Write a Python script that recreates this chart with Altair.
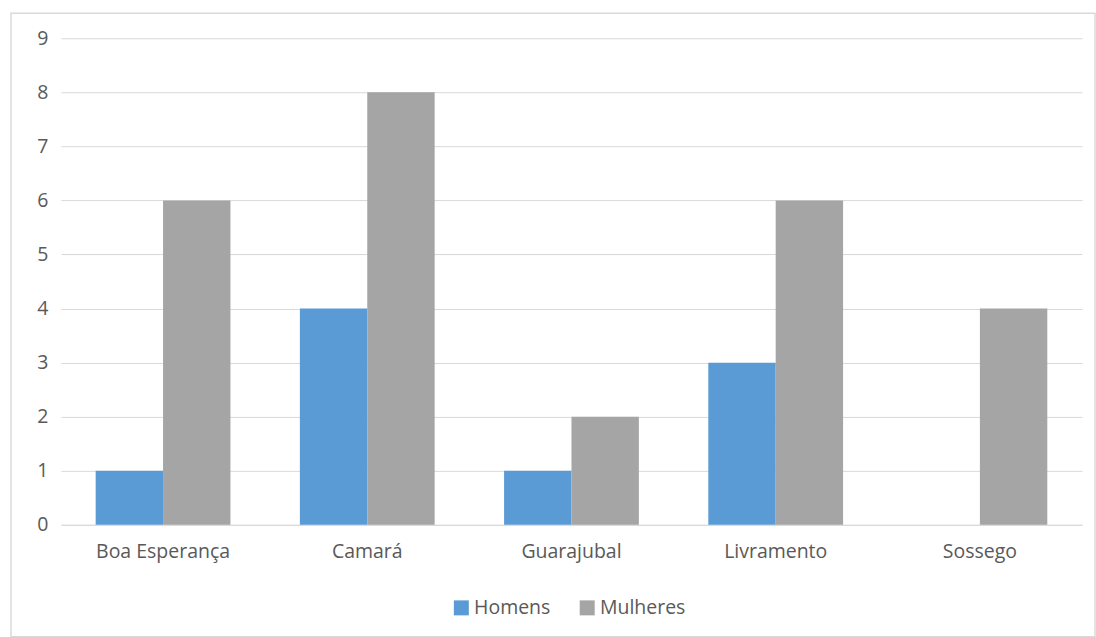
import altair as alt
import pandas as pd

# Number of people per locality, split by sex
locais = ["Boa Esperança", "Camará", "Guarajubal", "Livramento", "Sossego"]
homens = [1, 4, 1, 3, 0]
mulheres = [6, 8, 2, 6, 4]

series = ["Homens", "Mulheres"]
cores = ["#5b9bd5", "#a5a5a5"]
y_ticks = list(range(10))

rows = []
for i, local in enumerate(locais):
    rows.append({"local": local, "grupo": "Homens", "valor": homens[i]})
    rows.append({"local": local, "grupo": "Mulheres", "valor": mulheres[i]})
df = pd.DataFrame(rows)

FONT = "Open Sans"
TEXT = "#595959"
GRID = "#d9d9d9"
FS = 19.5

bars = alt.Chart(df).mark_bar().encode(
    x=alt.X(
        "local:N",
        sort=locais,
        scale=alt.Scale(paddingInner=0.34, paddingOuter=0.17),
        axis=alt.Axis(
            title=None, labelAngle=0, ticks=False, domain=True,
            domainColor=GRID, labelPadding=18, grid=False,
        ),
    ),
    xOffset=alt.XOffset("grupo:N", sort=series,
                        scale=alt.Scale(paddingInner=0, paddingOuter=0)),
    y=alt.Y(
        "valor:Q",
        scale=alt.Scale(domain=[0, 9], nice=False),
        axis=alt.Axis(
            title=None, values=y_ticks, ticks=False, domain=False,
            gridColor=GRID, labelPadding=13,
        ),
    ),
    color=alt.Color(
        "grupo:N",
        sort=series,
        scale=alt.Scale(domain=series, range=cores),
        legend=alt.Legend(
            title=None, orient="none", direction="horizontal",
            legendX=391, legendY=560,
            symbolType="square", symbolSize=225, symbolStrokeWidth=0,
            labelFontSize=FS, labelColor=TEXT, labelFont=FONT,
            columnPadding=27, labelOffset=3,
        ),
    ),
)

# Light outer frame around the whole chart
frame = alt.Chart(pd.DataFrame({"k": [0]})).mark_rect(
    fill="white", fillOpacity=0, stroke=GRID, strokeWidth=1.5
).encode(
    x=alt.value(-50), x2=alt.value(1035),
    y=alt.value(-25), y2=alt.value(599),
)

chart = alt.layer(frame, bars).properties(
    width=1022, height=487,
    padding={"left": 10, "top": 12, "right": 0, "bottom": 0},
    background="white",
).configure_view(stroke=None).configure_axis(
    labelFont=FONT, labelFontSize=FS, labelColor=TEXT,
)

chart.save("out.html", embed_options={"renderer": "svg", "actions": False})
